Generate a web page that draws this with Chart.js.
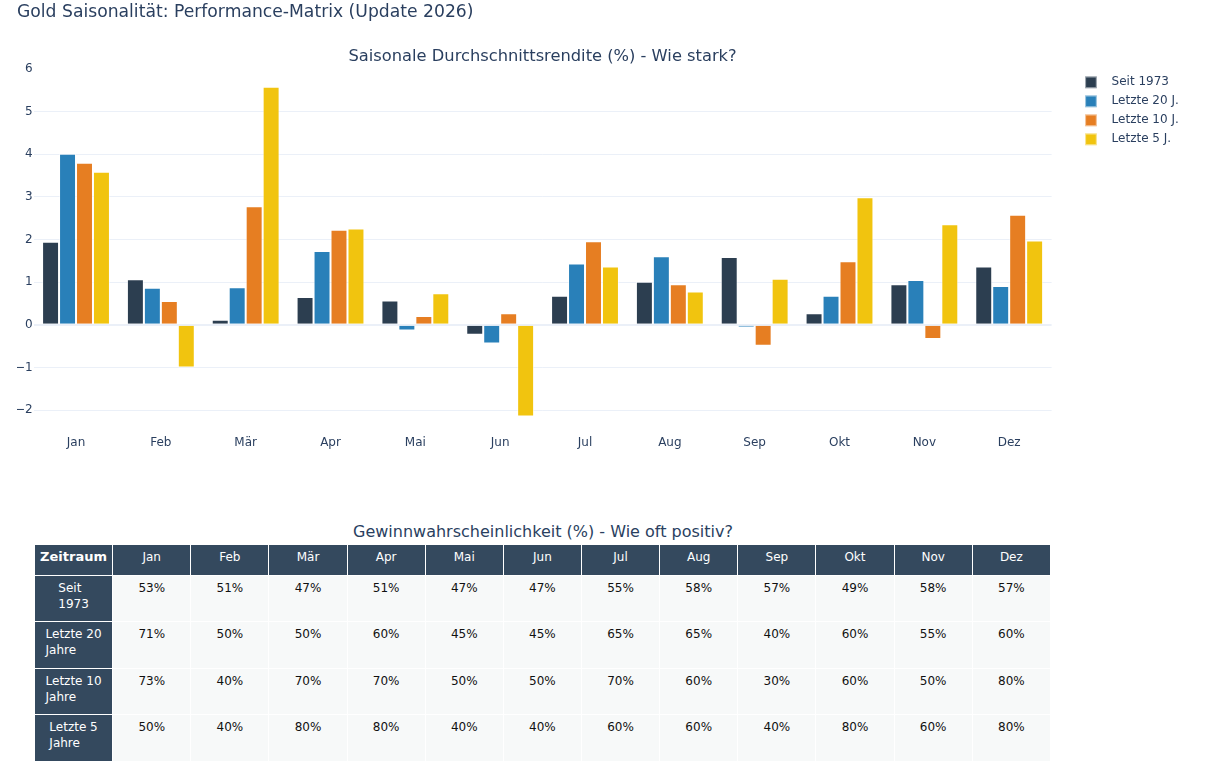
<!DOCTYPE html>
<html lang="de">
<head>
<meta charset="utf-8">
<title>Gold Saisonalität</title>
<script src="https://cdn.jsdelivr.net/npm/chart.js@4.4.1/dist/chart.umd.min.js"></script>
<style>
  body { margin: 0; background: #fff; font-family: "DejaVu Sans", Verdana, sans-serif; }
  #page { position: relative; width: 1206px; height: 777px; }
  #chartBox { position: absolute; left: 0; top: 0; width: 1206px; height: 460px; }
  #tableTitle {
    position: absolute; left: 34px; width: 1018px; top: 521px;
    text-align: center; font-size: 16px; color: #2a3f5f; line-height: 22px;
  }
  #probTable {
    position: absolute; left: 34px; top: 544px; width: 1017px;
    border-collapse: collapse; table-layout: fixed; font-size: 12px;
  }
  #probTable th, #probTable td {
    border: 1px solid #fff; text-align: center; vertical-align: top;
    padding: 4px 0 0 0; line-height: 16px; overflow: hidden;
  }
  #probTable thead th { background: #34495e; color: #fff; font-weight: normal; height: 26px; }
  #probTable thead th.first { font-weight: bold; font-size: 13px; }
  #probTable tbody th { background: #34495e; color: #fff; font-weight: normal; height: 41.4px; }
  #probTable tbody th span { display: inline-block; text-align: left; }
  #probTable tbody td { background: #f7f9f9; color: #111; }
</style>
</head>
<body>
<div id="page">
  <div id="chartBox"><canvas id="seasonChart" width="1206" height="460"></canvas></div>
  <div id="tableTitle">Gewinnwahrscheinlichkeit (%) - Wie oft positiv?</div>
  <table id="probTable"></table>
</div>
<script>
// Monate / Kategorien
const months = ['Jan', 'Feb', 'Mär', 'Apr', 'Mai', 'Jun', 'Jul', 'Aug', 'Sep', 'Okt', 'Nov', 'Dez'];

// Durchschnittsrendite (%) je Zeitraum
const seit1973 = [1.95, 1.07, 0.12, 0.65, 0.57, -0.23, 0.68, 1.01, 1.59, 0.27, 0.95, 1.37];
const letzte20 = [4.01, 0.87, 0.88, 1.73, -0.13, -0.44, 1.44, 1.61, -0.06, 0.68, 1.05, 0.91];
const letzte10 = [3.80, 0.56, 2.78, 2.23, 0.21, 0.27, 1.96, 0.95, -0.49, 1.49, -0.33, 2.58];
const letzte5  = [3.59, -1.00, 5.58, 2.26, 0.74, -2.15, 1.37, 0.78, 1.08, 2.99, 2.36, 1.98];

// Gewinnwahrscheinlichkeit (%) je Zeitraum
const probSeit1973 = [53, 51, 47, 51, 47, 47, 55, 58, 57, 49, 58, 57];
const prob20 = [71, 50, 50, 60, 45, 45, 65, 65, 40, 60, 55, 60];
const prob10 = [73, 40, 70, 70, 50, 50, 70, 60, 30, 60, 50, 80];
const prob5  = [50, 40, 80, 80, 40, 40, 60, 60, 40, 80, 60, 80];

const seriesNames = ['Seit 1973', 'Letzte 20 J.', 'Letzte 10 J.', 'Letzte 5 J.'];
const rowLabels = [['Seit', '1973'], ['Letzte 20', 'Jahre'], ['Letzte 10', 'Jahre'], ['Letzte 5', 'Jahre']];
const colors = ['#2c3e50', '#2980b9', '#e67e22', '#f1c40f'];
const textColor = '#2a3f5f';

Chart.defaults.font.family = '"DejaVu Sans", Verdana, sans-serif';
Chart.defaults.color = textColor;

// Legende rechts neben dem Plot (wie im Original)
const sideLegend = {
    id: 'sideLegend',
    afterDraw(chart) {
        const ctx = chart.ctx;
        const x = chart.chartArea.right + 33.5;
        ctx.save();
        ctx.font = '12px "DejaVu Sans", Verdana, sans-serif';
        ctx.textBaseline = 'middle';
        chart.data.datasets.forEach(function(ds, i) {
            const y = 82.3 + i * 19;
            ctx.fillStyle = ds.backgroundColor;
            ctx.fillRect(x, y - 5.8, 11.7, 11.7);
            ctx.strokeStyle = 'rgba(255,255,255,0.55)';
            ctx.lineWidth = 1;
            ctx.strokeRect(x + 0.5, y - 5.3, 10.7, 10.7);
            ctx.fillStyle = textColor;
            ctx.fillText(ds.label, x + 26.5, y);
        });
        ctx.restore();
    }
};

function createSeasonChart() {
    const ctx = document.getElementById('seasonChart');
    const values = [seit1973, letzte20, letzte10, letzte5];

    new Chart(ctx, {
        type: 'bar',
        data: {
            labels: months,
            datasets: values.map(function(v, i) {
                return {
                    label: seriesNames[i],
                    data: v,
                    backgroundColor: colors[i],
                    borderColor: 'rgba(255,255,255,0.55)',
                    borderWidth: 1,
                    categoryPercentage: 0.8,
                    barPercentage: 1.0
                };
            })
        },
        options: {
            responsive: false,
            animation: false,
            layout: { padding: { left: 17, right: 154.4, top: 0, bottom: 0 } },
            plugins: {
                legend: { display: false },
                tooltip: { enabled: false },
                title: {
                    display: true,
                    text: 'Gold Saisonalität: Performance-Matrix (Update 2026)',
                    align: 'start',
                    color: textColor,
                    font: { size: 17.2, weight: 'normal' },
                    padding: { top: 2.3, bottom: 0 }
                },
                subtitle: {
                    display: true,
                    fullSize: false,
                    text: 'Saisonale Durchschnittsrendite (%) - Wie stark?',
                    color: textColor,
                    font: { size: 16.3, weight: 'normal' },
                    padding: { top: 24.5, bottom: 1.9 }
                }
            },
            scales: {
                x: {
                    grid: { display: false, drawTicks: false },
                    border: { display: false },
                    ticks: { padding: 5, font: { size: 12 }, color: textColor },
                    afterFit: function(scale) { scale.height = 29.8; }
                },
                y: {
                    min: -2.47,
                    max: 6,
                    border: { display: false },
                    grid: {
                        drawTicks: false,
                        color: function(c) { return c.tick && c.tick.value === 6 ? 'rgba(0,0,0,0)' : '#ebf0f8'; },
                        lineWidth: function(c) { return c.tick && c.tick.value === 0 ? 2 : 1; }
                    },
                    ticks: {
                        stepSize: 1,
                        includeBounds: false,
                        padding: 1,
                        font: { size: 12 },
                        color: textColor,
                        callback: function(v) { return String(v).replace('-', '\u2212'); }
                    },
                    afterFit: function(scale) { scale.width = 16.6; }
                }
            }
        },
        plugins: [sideLegend]
    });
}

function createProbTable() {
    const table = document.getElementById('probTable');
    const rows = [probSeit1973, prob20, prob10, prob5];
    let html = '<thead><tr><th class="first">Zeitraum</th>';
    months.forEach(function(m) { html += '<th>' + m + '</th>'; });
    html += '</tr></thead><tbody>';
    rows.forEach(function(r, i) {
        html += '<tr><th><span>' + rowLabels[i].join('<br>') + '</span></th>';
        r.forEach(function(v) { html += '<td>' + v + '%</td>'; });
        html += '</tr>';
    });
    html += '</tbody>';
    table.innerHTML = html;
}

createSeasonChart();
createProbTable();
</script>
</body>
</html>
